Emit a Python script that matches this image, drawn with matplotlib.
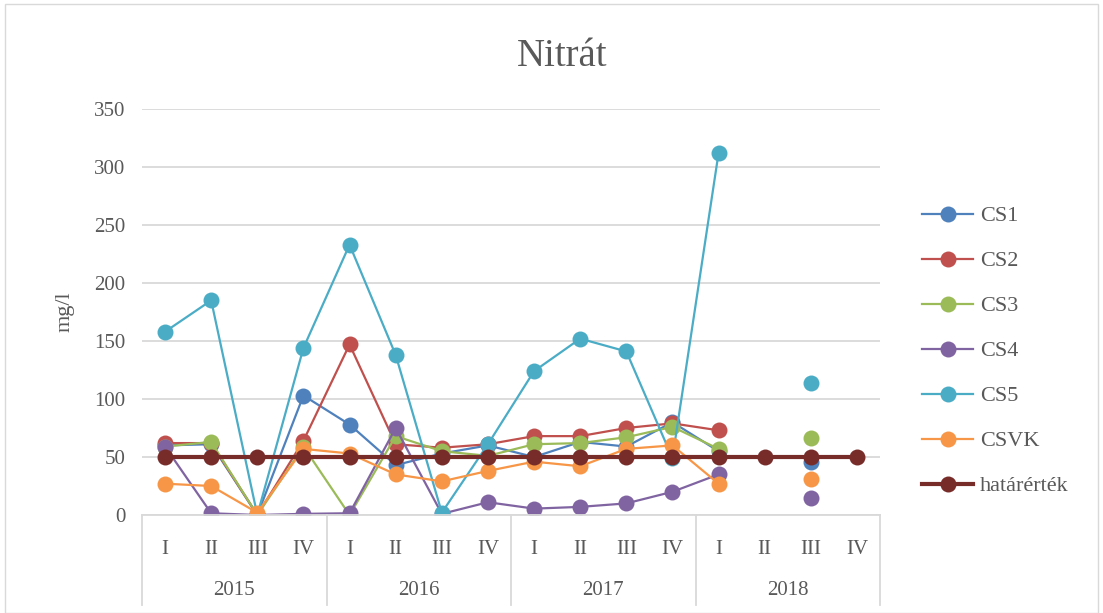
import matplotlib
matplotlib.use("Agg")
import matplotlib.pyplot as plt
import matplotlib.transforms as mtransforms
from matplotlib.patches import Rectangle
import numpy as np

nan = np.nan

years = ["2015", "2016", "2017", "2018"]
quarters = ["I", "II", "III", "IV"]

cs1 = [60, 61, 0, 103, 78, 43, 53, 60, 50, 63, 59, 80, 55, nan, 46, nan]
cs2 = [62, 62, 0, 64, 147, 61, 58, 61, 68, 68, 75, 79, 73, nan, nan, nan]
cs3 = [59, 63, 0, 59, 0, 68, 55, 51, 61, 62, 67, 76, 57, nan, 66, nan]
cs4 = [59, 1.5, 0, 1, 1.5, 75, 1, 11, 5.5, 7, 10, 20, 35, nan, 15, nan]
cs5 = [158, 185, 0, 144, 233, 138, 2, 61, 124, 152, 141, 49, 312, nan, 114, nan]
csvk = [27, 25, 2, 57, 53, 35, 29, 38, 46, 42, 57, 60, 27, nan, 31, nan]
hatarertek = [50] * 16

series = [
    ("CS1", cs1, "#4F81BD"),
    ("CS2", cs2, "#C0504D"),
    ("CS3", cs3, "#9BBB59"),
    ("CS4", cs4, "#8064A2"),
    ("CS5", cs5, "#4BACC6"),
    ("CSVK", csvk, "#F79646"),
    ("határérték", hatarertek, "#772C2A"),
]

plt.rcParams["font.family"] = ["Liberation Serif", "DejaVu Serif"]
txt = "#595959"
grid = "#D9D9D9"

fig = plt.figure(figsize=(11.03, 6.13), dpi=100)
ax = fig.add_axes([142 / 1103, 98 / 613, 738 / 1103, 406 / 613])

x = np.arange(16)
for name, vals, col in series:
    lw = 3 if name == "határérték" else 1.6
    ax.plot(x, vals, color=col, lw=lw, marker="o", ms=11.5, label=name,
            markeredgewidth=0)

ax.set_xlim(-0.5, 15.5)
ax.set_ylim(0, 350)
ax.set_yticks(range(0, 351, 50))
ax.yaxis.grid(True, color=grid, lw=1.3)
ax.set_axisbelow(True)
for s in ["left", "right", "top"]:
    ax.spines[s].set_visible(False)
ax.spines["bottom"].set_color(grid)
ax.spines["bottom"].set_linewidth(1.3)
ax.tick_params(axis="y", length=0, labelsize=15, labelcolor=txt, pad=12)
ax.set_xticks(x)
ax.set_xticklabels(quarters * 4)
ax.tick_params(axis="x", length=0, labelsize=15, labelcolor=txt, pad=18)
ax.set_ylabel("mg/l", fontsize=16, color=txt, labelpad=14)

# year groups under the quarters
trans = mtransforms.blended_transform_factory(ax.transData, ax.transAxes)
for i, yr in enumerate(years):
    ax.text(i * 4 + 1.5, -0.185, yr, transform=trans, ha="center", va="center",
            fontsize=15, color=txt)
for b in range(5):
    ax.plot([b * 4 - 0.5] * 2, [0, -0.222], transform=trans, color=grid,
            lw=1.3, clip_on=False)

fig.suptitle("Nitrát", x=562 / 1103, y=1 - 57 / 613, va="center",
             fontsize=28, color=txt)

ax.legend(loc="center left", bbox_to_anchor=(902 / 1103, 1 - 351 / 613),
          bbox_transform=fig.transFigure, frameon=False, fontsize=16,
          labelcolor=txt, handlelength=2.3, labelspacing=1.1,
          handletextpad=0.3)

fig.patches.append(Rectangle((5 / 1103, 0), 1 - 10 / 1103, 1 - 4 / 613,
                             transform=fig.transFigure, fill=False,
                             edgecolor=grid, lw=1))

fig.savefig("out.png", dpi=100)
